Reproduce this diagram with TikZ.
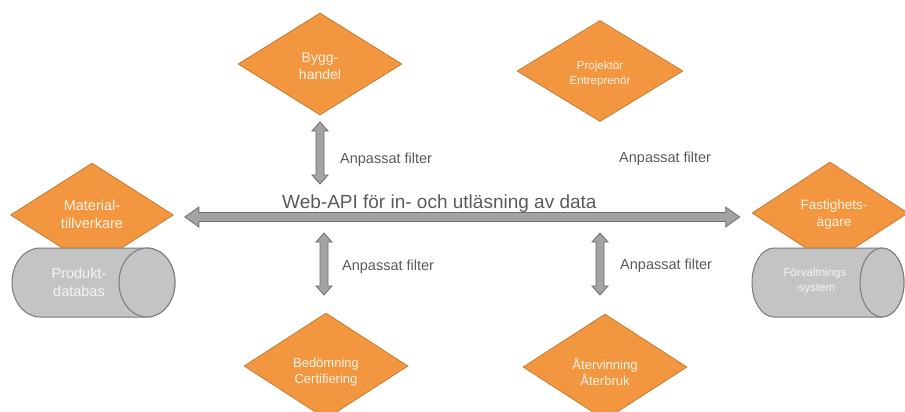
\documentclass[tikz,border=0pt]{standalone}
\usepackage{fontspec}
\setmainfont{Liberation Sans}
\usetikzlibrary{shapes.geometric,calc}

\definecolor{orfill}{HTML}{F2973F}
\definecolor{ordraw}{HTML}{C27530}
\definecolor{cylfill}{HTML}{C4C4C4}
\definecolor{cyldraw}{HTML}{7A7A7A}
\definecolor{arrfill}{HTML}{A3A3A3}
\definecolor{arrdraw}{HTML}{6E6E6E}
\definecolor{labeltxt}{HTML}{5A5A5A}
\definecolor{onorange}{HTML}{FFF3E8}
\definecolor{oncyl}{HTML}{F4F4F4}

\tikzset{
  role/.style={diamond, fill=orfill, draw=ordraw, line width=0.7pt,
    inner sep=0pt, minimum width=164pt, minimum height=102pt},
  roletext/.style={text=onorange, align=center, inner sep=0pt},
  cylbody/.style={fill=cylfill, draw=cyldraw, line width=1pt},
  cyltext/.style={text=oncyl, align=center, inner sep=0pt},
  filterlabel/.style={text=labeltxt, anchor=west, inner sep=0pt,
    font=\fontsize{14.5}{17}\selectfont},
  % horizontal block arrow with heads at both ends
  harrow/.style={fill=arrfill, draw=arrdraw, line width=0.8pt,
    to path={
      -- ($(\tikztostart)+(14,-10)$) -- ($(\tikztostart)+(14,-4.5)$)
      -- ($(\tikztotarget)+(-14,-4.5)$) -- ($(\tikztotarget)+(-14,-10)$)
      -- (\tikztotarget)
      -- ($(\tikztotarget)+(-14,10)$) -- ($(\tikztotarget)+(-14,4.5)$)
      -- ($(\tikztostart)+(14,4.5)$) -- ($(\tikztostart)+(14,10)$)
      -- cycle}},
  % vertical block arrow, drawn from its top tip to its bottom tip
  varrow/.style={fill=arrfill, draw=arrdraw, line width=0.8pt,
    to path={
      -- ($(\tikztostart)+(8,9)$) -- ($(\tikztostart)+(4,9)$)
      -- ($(\tikztotarget)+(4,-9)$) -- ($(\tikztotarget)+(8,-9)$)
      -- (\tikztotarget)
      -- ($(\tikztotarget)+(-8,-9)$) -- ($(\tikztotarget)+(-4,-9)$)
      -- ($(\tikztostart)+(-4,9)$) -- ($(\tikztostart)+(-8,9)$)
      -- cycle}},
}

\begin{document}
\begin{tikzpicture}[x=1pt,y=-1pt]
\useasboundingbox (0,0) rectangle (905,412);

% actors around the shared interface
\node[role] (byggd) at (320,64) {};
\node[roletext, font=\fontsize{14}{17}\selectfont] (bygg) at (320,66) {Bygg-\\handel};

\node[role, minimum width=166pt, minimum height=101pt] (projd) at (600,71) {};
\node[roletext, font=\fontsize{11.5}{15}\selectfont] (proj) at (600,74) {Projektör\\Entreprenör};

\node[role, minimum height=106pt] (bedomd) at (326,366) {};
\node[roletext, font=\fontsize{13}{16.5}\selectfont] (bedom) at (326,372) {Bedömning\\Certifiering};

\node[role, minimum height=106pt] (aterd) at (605,367) {};
\node[roletext, font=\fontsize{13}{16.5}\selectfont] (ater) at (605,372) {Återvinning\\Återbruk};

\node[role, minimum width=163pt, minimum height=104pt] (matd) at (92,215) {};
\node[roletext, font=\fontsize{14.5}{18}\selectfont] (mat) at (92,214) {Material-\\tillverkare};

\node[role, minimum width=156pt, minimum height=102pt] (fastd) at (830,213) {};
\node[roletext, font=\fontsize{13.5}{17}\selectfont] (fast) at (834,215) {Fastighets-\\ägare};

% data stores, drawn over the lower half of the diamonds above them
\draw[cylbody] (40,248) -- (147,248)
  arc[start angle=90, end angle=-90, x radius=28pt, y radius=34.5pt]
  -- (40,317)
  arc[start angle=270, end angle=90, x radius=28pt, y radius=34.5pt] -- cycle;
\draw[cylbody] (147,282.5) ellipse[x radius=28pt, y radius=34.5pt];
\node[cyltext, font=\fontsize{14.5}{18}\selectfont] (prod) at (79,282) {Produkt-\\databas};

\draw[cylbody] (774,248) -- (882,248)
  arc[start angle=90, end angle=-90, x radius=22pt, y radius=34.5pt]
  -- (774,317)
  arc[start angle=270, end angle=90, x radius=22pt, y radius=34.5pt] -- cycle;
\draw[cylbody] (882,282.5) ellipse[x radius=22pt, y radius=34.5pt];
\node[cyltext, font=\fontsize{11.5}{15}\selectfont] (forv) at (815,281) {Förvaltnings\\-system};

% the web API
\coordinate (apiL) at ($(matd.east)+(11,2)$);
\coordinate (apiR) at ($(fastd.west)+(-12,4)$);
\draw[harrow] (apiL) to (apiR);
\node[text=labeltxt, anchor=base west, inner sep=0pt, font=\fontsize{19}{22}\selectfont]
  (api) at (282,208) {Web-API för in- och utläsning av data};

% filters between the actors and the API
\coordinate (f1t) at (320,122);  \coordinate (f1b) at (320,184);
\coordinate (f3t) at (324,233);  \coordinate (f3b) at (324,295);
\coordinate (f4t) at (600,233);  \coordinate (f4b) at (600,295);
\draw[varrow] (f1t) to (f1b);
\draw[varrow] (f3t) to (f3b);
\draw[varrow] (f4t) to (f4b);

\node[filterlabel] (flt1) at (340,160) {Anpassat filter};
\node[filterlabel] (flt2) at (619,159) {Anpassat filter};
\node[filterlabel] (flt3) at (342,267) {Anpassat filter};
\node[filterlabel] (flt4) at (620,266) {Anpassat filter};
\end{tikzpicture}
\end{document}
